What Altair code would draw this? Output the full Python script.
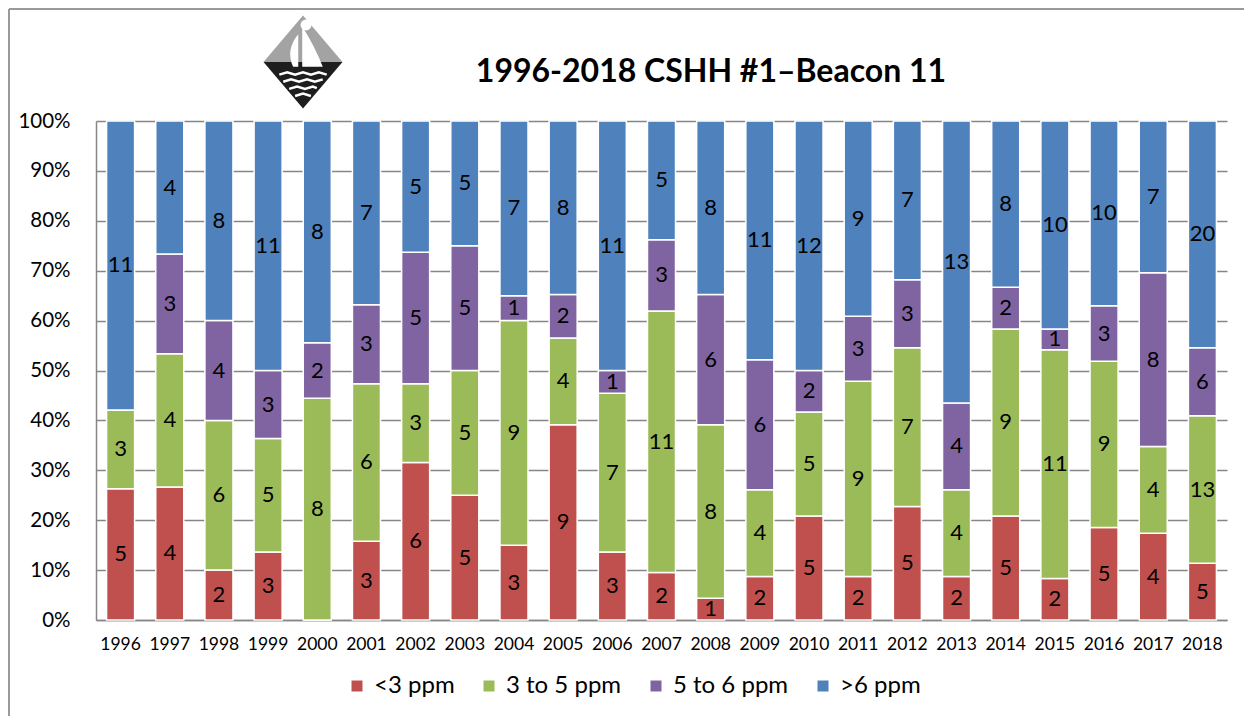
import altair as alt
import pandas as pd

years = [str(y) for y in range(1996, 2019)]
categories = ["<3 ppm", "3 to 5 ppm", "5 to 6 ppm", ">6 ppm"]
colors = ["#C0504D", "#9BBB59", "#8064A2", "#4F81BD"]
lt3 = [5, 4, 2, 3, 0, 3, 6, 5, 3, 9, 3, 2, 1, 2, 5, 2, 5, 2, 5, 2, 5, 4, 5]
r3to5 = [3, 4, 6, 5, 8, 6, 3, 5, 9, 4, 7, 11, 8, 4, 5, 9, 7, 4, 9, 11, 9, 4, 13]
r5to6 = [0, 3, 4, 3, 2, 3, 5, 5, 1, 2, 1, 3, 6, 6, 2, 3, 3, 4, 2, 1, 3, 8, 6]
gt6 = [11, 4, 8, 11, 8, 7, 5, 5, 7, 8, 11, 5, 8, 11, 12, 9, 7, 13, 8, 10, 10, 7, 20]
series = [lt3, r3to5, r5to6, gt6]
y_ticks = [i / 10 for i in range(11)]
title_text = "1996-2018 CSHH #1\u2013Beacon 11"

rows = []
for ci, (cat, vals) in enumerate(zip(categories, series)):
    for yr, v in zip(years, vals):
        rows.append({"year": yr, "category": cat, "order": ci, "count": v})
df = pd.DataFrame(rows)

FONT = "Lato"
W, H = 1131, 499
one = pd.DataFrame({"a": [0]})

base = alt.Chart(df).transform_stack(
    stack="count", groupby=["year"], as_=["y0", "y1"], offset="normalize",
    sort=[alt.SortField("order", "ascending")]
).transform_calculate(mid="(datum.y0 + datum.y1) / 2")

xenc = alt.X("year:N", sort=years, title=None,
             scale=alt.Scale(paddingInner=0.43, paddingOuter=0.215),
             axis=alt.Axis(labelAngle=0, labelFontSize=17.5, labelFont=FONT, labelColor="#000000",
                           ticks=False, labelPadding=15, domainColor="#868686", domainWidth=1.5, grid=False))

bars = base.mark_bar(stroke="white", strokeWidth=1.5).encode(
    x=xenc,
    y=alt.Y("y0:Q", scale=alt.Scale(domain=[0, 1], nice=False), title=None,
            axis=alt.Axis(values=y_ticks, format=".0%", labelFontSize=20.5, labelFont=FONT,
                          labelColor="#000000", ticks=False, labelPadding=26,
                          domainColor="#868686", domainWidth=1.5,
                          grid=True, gridColor="#868686", gridWidth=1.5)),
    y2="y1:Q",
    color=alt.Color("category:N", sort=categories,
                    scale=alt.Scale(domain=categories, range=colors),
                    legend=alt.Legend(title=None, orient="none", direction="horizontal",
                                      legendX=249, legendY=553, symbolType="square",
                                      symbolSize=121, symbolStrokeWidth=0, labelFontSize=24,
                                      labelFont=FONT, labelColor="#000000", columnPadding=22,
                                      labelOffset=5)),
)

labels = base.transform_filter("datum.count > 0").mark_text(
    fontSize=22, font=FONT, color="#000000"
).encode(x=alt.X("year:N", sort=years), y=alt.Y("mid:Q"), text="count:Q")

title = alt.Chart(one).mark_text(
    text=title_text, fontSize=32, font=FONT, fontWeight="bold", color="#000000",
    align="center", baseline="alphabetic"
).encode(x=alt.value(615), y=alt.value(-39))

# logo (simplified): gray sky, dark sea, white sail and waves
logo_top = alt.Chart(one).mark_point(
    shape="M-1,0L0,-1.18L1,0Z", size=6241, filled=True, color="#a3a3a3", opacity=1
).encode(x=alt.value(207), y=alt.value(-59))
logo_bot = alt.Chart(one).mark_point(
    shape="M-1,0L0,1.18L1,0Z", size=6241, filled=True, color="#1e1e1e", opacity=1
).encode(x=alt.value(207), y=alt.value(-59))
logo_sail = alt.Chart(one).mark_point(
    shape="M-0.02,-0.9Q0.3,-0.4 0.5,0.12L-0.02,0.12Z M-0.12,-0.7Q-0.45,-0.3 -0.25,0.12L-0.12,0.12Z",
    size=6241, filled=True, color="#ffffff", opacity=1
).encode(x=alt.value(207), y=alt.value(-59))
logo_sun = alt.Chart(one).mark_point(
    shape="circle", size=120, filled=True, color="#ffffff", opacity=1
).encode(x=alt.value(210), y=alt.value(-96))
logo_waves = alt.Chart(one).mark_point(
    shape=("M-0.6,0.32L-0.4,0.26L-0.2,0.32L0,0.26L0.2,0.32L0.4,0.26L0.6,0.32"
           "M-0.5,0.5L-0.3,0.44L-0.1,0.5L0.1,0.44L0.3,0.5L0.5,0.44"
           "M-0.35,0.68L-0.15,0.62L0.05,0.68L0.25,0.62L0.35,0.66"
           "M-0.2,0.86L0,0.8L0.2,0.86"),
    size=6241, filled=False, stroke="#ffffff", strokeWidth=2.5, opacity=1
).encode(x=alt.value(207), y=alt.value(-59))

border = alt.Chart(one).mark_rule(color="#9a9a9a", strokeWidth=2).encode(
    x=alt.value(-87), x2=alt.value(W + 30), y=alt.value(-112), y2=alt.value(-112)
)
border_l = alt.Chart(one).mark_rule(color="#9a9a9a", strokeWidth=2).encode(
    x=alt.value(-87), x2=alt.value(-87), y=alt.value(-112), y2=alt.value(H + 110)
)

chart = alt.layer(bars, labels, title, logo_top, logo_bot, logo_sail, logo_sun, logo_waves,
                  border, border_l).properties(
    width=W, height=H,
    autosize=alt.AutoSizeParams(type="none"),
    padding={"left": 88, "top": 113, "right": 17, "bottom": 96},
).configure_view(stroke=None)

chart.save("out.html", embed_options={"renderer": "svg", "actions": False})
